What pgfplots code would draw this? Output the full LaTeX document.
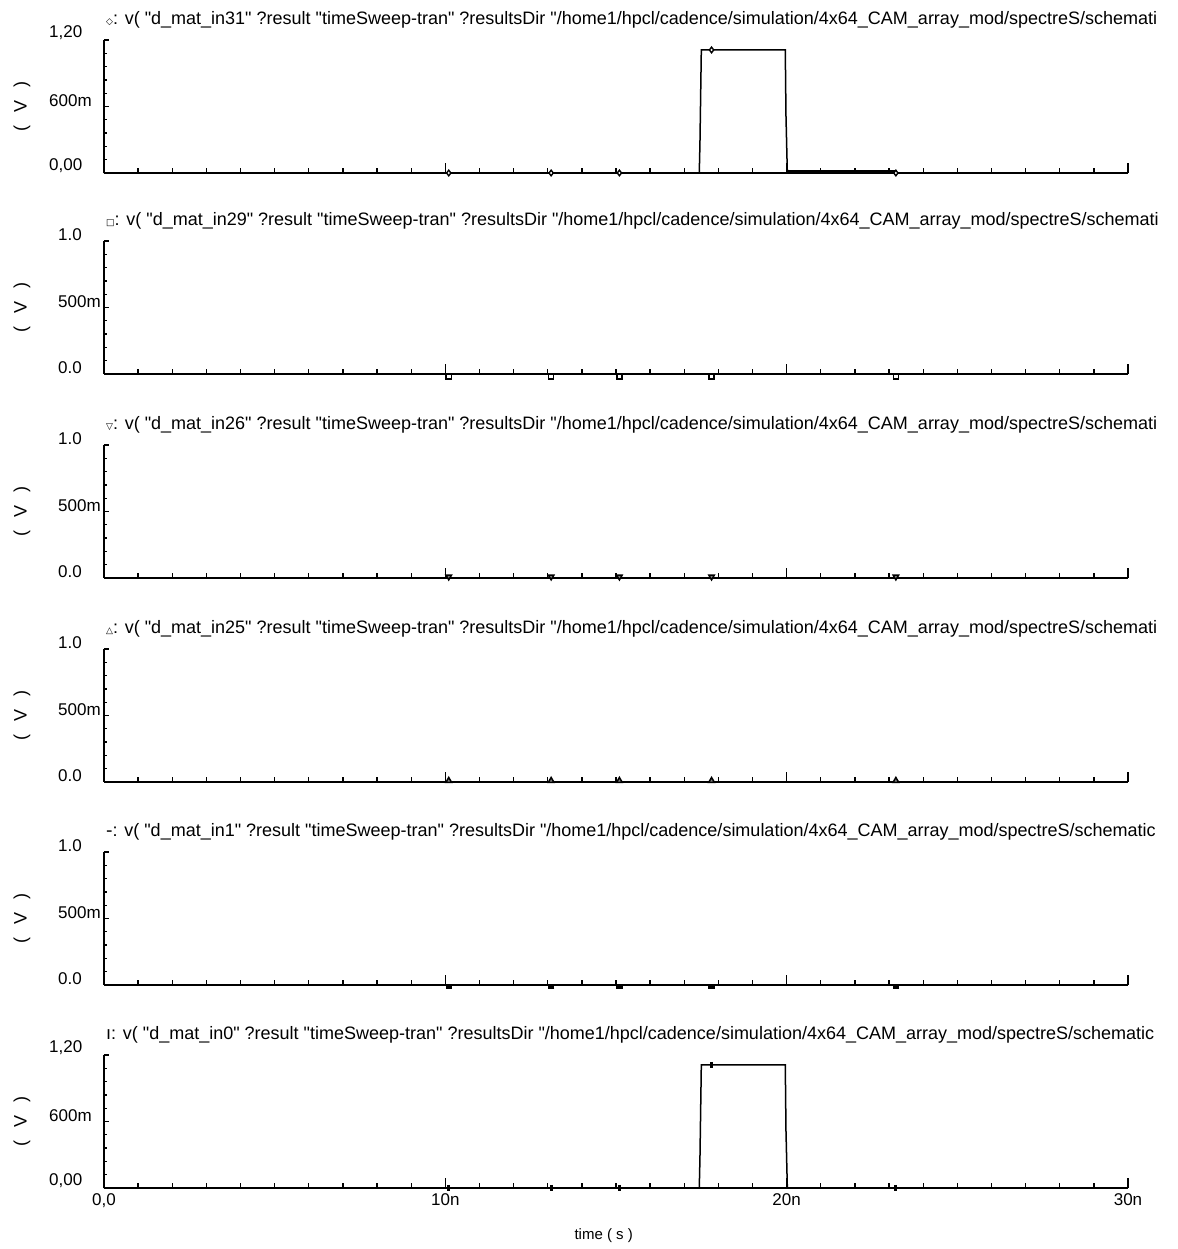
\documentclass[border=0pt]{standalone}
\usepackage{fontspec}
\setmainfont{Liberation Sans}[Ligatures=TeXOff]
\newfontfamily\sym{DejaVu Sans}
\usepackage{pgfplots}
\pgfplotsset{compat=1.18}
\newcommand{\q}{\char"22\relax}
\newcommand{\tf}{\fontsize{18}{20}\selectfont}
\newcommand{\lf}{\fontsize{17}{19}\selectfont}

\pgfplotsset{
  panel/.style={
    width=1024pt, height=133pt, scale only axis,
    xmin=0, xmax=30,
    axis x line*=bottom, axis y line*=left,
    tick align=inside,
    xtick={0,1,...,30}, xticklabels={},
    major tick length=5pt,
    extra x ticks={0,10,20,30},
    extra x tick labels={},
    extra x tick style={major tick length=10pt},
    axis line style={line width=1.6pt, black},
    every tick/.style={black, line width=1.3pt},
    anchor=south west,
    clip=false,
    ylabel={(\hspace{13pt}V\hspace{13pt})},
    ylabel style={at={(axis description cs:-0.08,0.5)}, anchor=center, font=\fontsize{18}{20}\selectfont},
    yticklabel style={anchor=south west, inner sep=0pt, font=\lf},
    title style={at={(axis description cs:0,1)}, anchor=base west, yshift=9pt, xshift=2pt, inner sep=0pt, font=\tf},
  },
  p12/.style={ymin=0, ymax=1.2, ytick={0,0.6,1.2}, yticklabels={{0,00},600m,{1,20}},
    minor y tick num=4, yticklabel style={xshift=-55pt}},
  p10/.style={ymin=0, ymax=1.0, ytick={0,0.5,1.0}, yticklabels={0.0,500m,1.0},
    minor y tick num=4, yticklabel style={xshift=-46pt}},
  trace/.style={black, line width=1.5pt, no marks},
}

\begin{document}
\begin{tikzpicture}
\useasboundingbox (0,0) rectangle (1177pt,1249pt);

% Panel 1
\begin{axis}[panel, p12, at={(104pt,1076pt)},
  title={{\sym\small ◇}: v( \q d\_mat\_in31\q{} ?result \q timeSweep-tran\q{} ?resultsDir \q/home1/hpcl/cadence/simulation/4x64\_CAM\_array\_mod/spectreS/schemati}]
\addplot[trace] coordinates {(0,0) (17.44,0) (17.46,0.27) (17.50,1.11) (19.96,1.11) (19.98,0.52) (20.02,0) (30,0)};
\addplot[black, line width=3pt, no marks] coordinates {(20.02,0.015) (23.2,0.015)};
\addplot[only marks, mark=diamond*, mark size=2.8pt, black, mark options={fill=white, line width=1.4pt}]
  coordinates {(10.1,0) (13.1,0) (15.1,0) (17.8,1.11) (23.2,0)};
\end{axis}

% Panel 2
\begin{axis}[panel, p10, at={(104pt,875pt)},
  title={{\sym\small □}: v( \q d\_mat\_in29\q{} ?result \q timeSweep-tran\q{} ?resultsDir \q/home1/hpcl/cadence/simulation/4x64\_CAM\_array\_mod/spectreS/schemati}]
\addplot[trace] coordinates {(0,0) (30,0)};
\addplot[only marks, mark=square*, mark size=2.6pt, black, mark options={fill=white, line width=1.5pt}]
  coordinates {(10.1,-0.02) (13.1,-0.02) (15.1,-0.02) (17.8,-0.02) (23.2,-0.02)};
\end{axis}

% Panel 3
\begin{axis}[panel, p10, at={(104pt,671pt)},
  title={{\sym\small ▽}: v( \q d\_mat\_in26\q{} ?result \q timeSweep-tran\q{} ?resultsDir \q/home1/hpcl/cadence/simulation/4x64\_CAM\_array\_mod/spectreS/schemati}]
\addplot[trace] coordinates {(0,0) (30,0)};
\addplot[only marks, mark=triangle*, mark size=3.2pt, black, mark options={fill=gray, line width=1.5pt, rotate=180}]
  coordinates {(10.1,0.01) (13.1,0.01) (15.1,0.01) (17.8,0.01) (23.2,0.01)};
\end{axis}

% Panel 4
\begin{axis}[panel, p10, at={(104pt,467pt)},
  title={{\sym\small △}: v( \q d\_mat\_in25\q{} ?result \q timeSweep-tran\q{} ?resultsDir \q/home1/hpcl/cadence/simulation/4x64\_CAM\_array\_mod/spectreS/schemati}]
\addplot[trace] coordinates {(0,0) (30,0)};
\addplot[only marks, mark=triangle*, mark size=3.2pt, black, mark options={fill=gray, line width=1.5pt}]
  coordinates {(10.1,0.01) (13.1,0.01) (15.1,0.01) (17.8,0.01) (23.2,0.01)};
\end{axis}

% Panel 5
\begin{axis}[panel, p10, at={(104pt,264pt)},
  title={{\sym -}: v( \q d\_mat\_in1\q{} ?result \q timeSweep-tran\q{} ?resultsDir \q/home1/hpcl/cadence/simulation/4x64\_CAM\_array\_mod/spectreS/schematic}]
\addplot[trace] coordinates {(0,0) (30,0)};
\addplot[only marks, mark=-, mark size=3.2pt, black, mark options={line width=3.5pt}]
  coordinates {(10.1,-0.014) (13.1,-0.014) (15.1,-0.014) (17.8,-0.014) (23.2,-0.014)};
\end{axis}

% Panel 6
\begin{axis}[panel, p12, at={(104pt,61pt)},
  extra x tick labels={{0{,}0},10n,20n,30n},
  extra x tick style={major tick length=10pt, tick label style={font=\lf, yshift=-2pt}},
  xlabel={time ( s )},
  xlabel style={at={(axis description cs:0.488,0)}, anchor=center, yshift=-48pt, font=\fontsize{15}{17}\selectfont},
  title={{\sym ı}: v( \q d\_mat\_in0\q{} ?result \q timeSweep-tran\q{} ?resultsDir \q/home1/hpcl/cadence/simulation/4x64\_CAM\_array\_mod/spectreS/schematic}]
\addplot[trace] coordinates {(0,0) (17.44,0) (17.46,0.27) (17.50,1.11) (19.96,1.11) (19.98,0.52) (20.02,0) (30,0)};
\addplot[only marks, mark=|, mark size=3.2pt, black, mark options={line width=2.8pt}]
  coordinates {(10.1,0) (13.1,0) (15.1,0) (17.8,1.11) (23.2,0)};
\end{axis}
\end{tikzpicture}
\end{document}
